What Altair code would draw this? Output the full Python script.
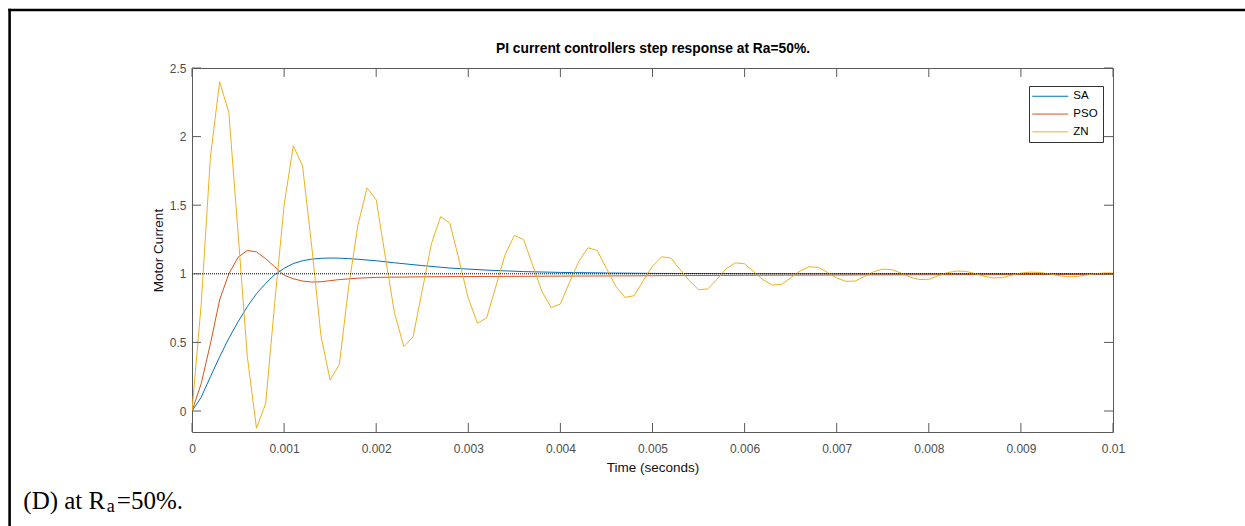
import altair as alt
import pandas as pd

# ---------------- data ----------------
series_names = ["SA", "PSO", "ZN"]
series_colors = ["#0072BD", "#D95319", "#EDB120"]

sa_t = [0, 0.0001, 0.0002, 0.0003, 0.0004, 0.0005, 0.0006, 0.0007, 0.0008, 0.0009,
        0.0010, 0.0011, 0.0012, 0.0013, 0.0014, 0.0015, 0.0016, 0.0017, 0.0018, 0.0020,
        0.0022, 0.0025, 0.0028, 0.0032, 0.0036, 0.0040, 0.0045, 0.0050, 0.0060, 0.0080, 0.0100]
sa_v = [0, 0.10, 0.25, 0.395, 0.53, 0.65, 0.76, 0.855, 0.93, 0.995,
        1.04, 1.075, 1.095, 1.107, 1.113, 1.115, 1.114, 1.111, 1.106, 1.095,
        1.08, 1.06, 1.042, 1.027, 1.016, 1.010, 1.006, 1.003, 1.001, 1.0, 1.0]

pso_t = [0, 0.0001, 0.0002, 0.0003, 0.0004, 0.0005, 0.0006, 0.0007, 0.0008, 0.0009,
         0.0010, 0.0011, 0.0012, 0.0013, 0.0014, 0.0015, 0.0016, 0.0018, 0.0020, 0.0025,
         0.0030, 0.0040, 0.0050, 0.0060, 0.0080, 0.0100]
pso_v = [0, 0.20, 0.49, 0.81, 1.0, 1.12, 1.17, 1.16, 1.11, 1.05,
         0.99, 0.964, 0.947, 0.94, 0.942, 0.95, 0.958, 0.968, 0.974, 0.978,
         0.98, 0.983, 0.986, 0.989, 0.993, 0.996]

zn_t = [round(i * 0.0001, 4) for i in range(101)]
zn_v = [0, 0.78, 1.85, 2.40, 2.175, 1.30, 0.40, -0.126, 0.056, 0.80,
        1.50, 1.933, 1.788, 1.20, 0.55, 0.225, 0.34, 0.90, 1.35, 1.626,
        1.54, 1.12, 0.71, 0.47, 0.54, 0.88, 1.22, 1.417, 1.368, 1.10,
        0.82, 0.64, 0.68, 0.91, 1.14, 1.28, 1.25, 1.06, 0.87, 0.754,
        0.78, 0.94, 1.09, 1.19, 1.17, 1.04, 0.91, 0.828, 0.84, 0.95,
        1.056, 1.124, 1.115, 1.03, 0.95, 0.884, 0.89, 0.96, 1.037, 1.08,
        1.073, 1.015, 0.957, 0.918, 0.923, 0.97, 1.02, 1.051, 1.047, 1.01,
        0.97, 0.945, 0.947, 0.98, 1.015, 1.034, 1.03, 1.005, 0.975, 0.958,
        0.96, 0.985, 1.008, 1.02, 1.018, 1.002, 0.982, 0.97, 0.972, 0.99,
        1.005, 1.012, 1.01, 1.0, 0.988, 0.978, 0.98, 0.99, 1.0, 1.006, 1.006]

x_ticks = [0, 0.001, 0.002, 0.003, 0.004, 0.005, 0.006, 0.007, 0.008, 0.009, 0.01]
y_ticks = [0, 0.5, 1, 1.5, 2, 2.5]
reference_level = [1.0]

title_text = "PI current controllers step response at Ra=50%."
x_title = "Time (seconds)"
y_title = "Motor Current"
caption_parts = ["(D) at R", "a", "=50%."]

# ---------------- build ----------------
W, H = 921, 364
PAD_L, PAD_T = 192, 68
AX = "#5a5a5a"
FONT = "Liberation Sans"

rows = []
for name, ts, vs in [("SA", sa_t, sa_v), ("PSO", pso_t, pso_v), ("ZN", zn_t, zn_v)]:
    for t, v in zip(ts, vs):
        rows.append({"t": t, "v": v, "series": name})
df = pd.DataFrame(rows)

xscale = alt.Scale(domain=[0, 0.01], nice=False, zero=False)
yscale = alt.Scale(domain=[-0.153, 2.5], nice=False, zero=False)

x_axis = alt.Axis(
    values=x_ticks, format="~g", title=x_title, grid=False, ticks=False, domain=False,
    tickSize=0, labelFlush=False, labelOverlap=False, labelFont=FONT, labelFontSize=12,
    labelColor="#4d4d4d", labelBaseline="alphabetic", labelPadding=20,
    titleFont=FONT, titleFontSize=13.5, titleFontWeight="normal", titleColor="#111111",
    titleX=W / 2, titleY=35, titleBaseline="middle", titleAlign="center")
y_axis = alt.Axis(
    values=y_ticks, format="~g", title=y_title, grid=False, ticks=False, domain=False,
    tickSize=0, labelFlush=False, labelOverlap=False, labelFont=FONT, labelFontSize=12,
    labelColor="#4d4d4d", labelPadding=6,
    titleFont=FONT, titleFontSize=13.5, titleFontWeight="normal", titleColor="#111111",
    titleX=-34, titleY=H / 2, titleAngle=-90, titleBaseline="middle", titleAlign="center")

X = lambda: alt.X("t:Q", scale=xscale, axis=x_axis)
Y = lambda: alt.Y("v:Q", scale=yscale, axis=y_axis)

lines = alt.Chart(df).mark_line(strokeWidth=1, clip=True).encode(
    x=X(), y=Y(),
    color=alt.Color("series:N", scale=alt.Scale(domain=series_names, range=series_colors),
                    legend=alt.Legend(title=None, orient="none", legendX=837, legendY=18,
                                      direction="vertical", symbolType="M-7,0H29",
                                      symbolStrokeWidth=1, symbolSize=4,
                                      labelFont=FONT, labelFontSize=11.5, labelColor="black",
                                      labelOffset=28.3, padding=4.5, rowPadding=4.8,
                                      fillColor="white", strokeColor="#333333")),
)

ref = alt.Chart(pd.DataFrame({"v": reference_level})).mark_rule(
    color="black", strokeWidth=1, strokeDash=[1, 1]).encode(y=Y())

xt = pd.DataFrame({"t": x_ticks})
yt = pd.DataFrame({"v": y_ticks})
tick_bottom = alt.Chart(xt).mark_rule(color=AX, strokeWidth=1).encode(
    x=X(), y=alt.value(H), y2=alt.value(H - 9))
tick_top = alt.Chart(xt).mark_rule(color=AX, strokeWidth=1).encode(
    x=X(), y=alt.value(0), y2=alt.value(9))
tick_left = alt.Chart(yt).mark_rule(color=AX, strokeWidth=1).encode(
    y=Y(), x=alt.value(0), x2=alt.value(9))
tick_right = alt.Chart(yt).mark_rule(color=AX, strokeWidth=1).encode(
    y=Y(), x=alt.value(W), x2=alt.value(W - 9))

title = alt.Chart(pd.DataFrame({"s": [title_text]})).mark_text(
    font=FONT, fontSize=13.8, fontWeight="bold", color="black", align="center",
    baseline="alphabetic").encode(text="s:N", x=alt.value(461), y=alt.value(-15.5))

cap1 = alt.Chart(pd.DataFrame({"s": [caption_parts[0]]})).mark_text(
    font="Liberation Serif", fontSize=25, color="black", align="left",
    baseline="alphabetic").encode(text="s:N", x=alt.value(23.3 - PAD_L), y=alt.value(509.3 - PAD_T))
cap2 = alt.Chart(pd.DataFrame({"s": [caption_parts[1]]})).mark_text(
    font="Liberation Serif", fontSize=18, color="black", align="left",
    baseline="alphabetic").encode(text="s:N", x=alt.value(106.8 - PAD_L), y=alt.value(512 - PAD_T))
cap3 = alt.Chart(pd.DataFrame({"s": [caption_parts[2]]})).mark_text(
    font="Liberation Serif", fontSize=25, color="black", align="left",
    baseline="alphabetic").encode(text="s:N", x=alt.value(116.8 - PAD_L), y=alt.value(509.3 - PAD_T))

frame_top = alt.Chart(pd.DataFrame({"k": [0]})).mark_rule(color="black", strokeWidth=2.6).encode(
    x=alt.value(8.3 - PAD_L), x2=alt.value(1245 - PAD_L), y=alt.value(10 - PAD_T))
frame_left = alt.Chart(pd.DataFrame({"k": [0]})).mark_rule(color="black", strokeWidth=2.6).encode(
    x=alt.value(9.6 - PAD_L), y=alt.value(8.7 - PAD_T), y2=alt.value(526 - PAD_T))

chart = alt.layer(
    lines, ref, tick_bottom, tick_top, tick_left, tick_right,
    title, cap1, cap2, cap3, frame_top, frame_left
).properties(
    width=W, height=H,
    autosize=alt.AutoSizeParams(type="none"),
    padding={"left": PAD_L, "top": PAD_T, "right": 1245 - PAD_L - W, "bottom": 526 - PAD_T - H},
    background="white",
).configure_view(stroke=AX, strokeWidth=1)

chart.save("out.html", embed_options={"renderer": "svg", "actions": False})
